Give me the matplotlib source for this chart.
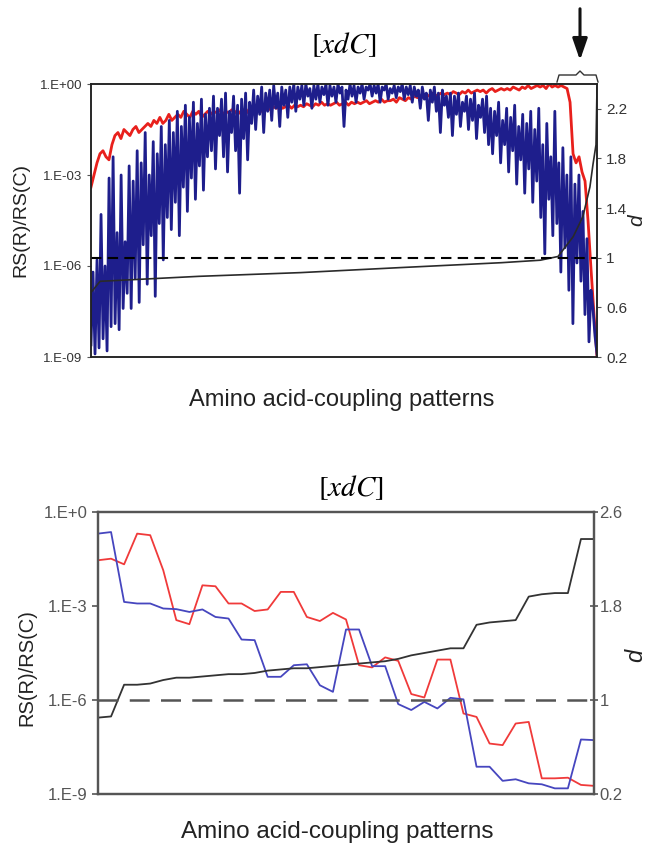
import numpy as np
import matplotlib.pyplot as plt
from matplotlib.ticker import NullLocator
from matplotlib.lines import Line2D

plt.rcParams['font.family'] = ['Liberation Sans', 'DejaVu Sans']
plt.rcParams['mathtext.fontset'] = 'stix'

# ---- upper panel: all coupling patterns (log10 of RS(R)/RS(C)) ----
blue_top = [
    -8.6, -6.2, -8.9, -5.8, -8.7, -4.3, -8.4, -6.0, -8.8, -3.1, -8.0, -2.4, -7.9, -4.9, -8.1, -3.0, -7.4, -5.2, -6.9, -2.7,
    -7.4, -3.2, -6.4, -2.2, -7.2, -2.6, -5.3, -1.6, -6.6, -3.0, -5.0, -1.9, -7.0, -2.3, -4.6, -1.4, -5.8, -2.0, -4.4, -1.2,
    -4.8, -1.6, -3.9, -0.9, -5.0, -1.4, -3.4, -0.7, -4.2, -1.1, -3.1, -0.6, -3.8, -1.3, -2.7, -0.5, -3.5, -1.0, -2.4, -0.8,
    -2.2, -0.4, -2.8, -0.8, -1.7, -0.5, -2.4, -0.3, -2.9, -0.9, -1.6, -0.4, -2.2, -0.7, -3.6, -0.5, -1.8, -0.3, -2.5, -0.6,
    -1.3, -0.2, -1.5, -0.4, -1.0, -0.1, -1.6, -0.3, -0.9, -0.2, -1.2, -0.05, -0.8, -0.3, -1.4, -0.1, -0.7, -0.2, -1.1, -0.1,
    -0.6, 0.0, -0.9, -0.1, -0.5, -0.05, -0.7, 0.0, -0.4, -0.15, -0.8, -0.05, -0.5, 0.0, -0.6, -0.1, -0.35, 0.0, -0.7, -0.05,
    -0.4, -0.1, -0.6, 0.0, -0.3, -0.1, -1.4, -0.2, -0.5, 0.0, -0.4, -0.05, -0.6, -0.1, -0.3, 0.0, -0.5, -0.1, -0.2, 0.0,
    -0.4, -0.05, -0.3, 0.0, -0.6, -0.1, -0.2, 0.0, -0.5, -0.15, -0.3, -0.05, -0.45, -0.1, -0.25, 0.0, -0.5, -0.1, -0.35, -0.05,
    -0.6, -0.1, -0.4, -0.2, -0.8, -0.1, -0.5, -0.3, -1.2, -0.2, -0.6, -0.1, -0.9, -0.3, -1.6, -0.2, -0.7, -0.4, -1.1, -0.3,
    -1.7, -0.4, -1.0, -0.3, -1.4, -0.6, -0.9, -0.4, -1.5, -0.5, -1.2, -0.3, -1.8, -0.7, -1.1, -0.5, -1.6, -0.4, -2.0, -0.8,
    -2.3, -0.9, -1.7, -0.6, -2.6, -1.2, -2.0, -0.8, -2.9, -1.1, -2.2, -0.7, -3.3, -1.4, -2.5, -1.0, -3.6, -1.3, -2.8, -0.9,
    -3.9, -1.5, -3.2, -0.8, -4.4, -2.0, -5.6, -1.3, -3.8, -2.4, -5.0, -0.9, -4.6, -2.6, -6.2, -2.1, -5.4, -3.0, -6.8, -2.4,
    -7.9, -3.3, -5.9, -3.0, -6.5, -4.2, -7.6, -5.1, -8.5, -6.8, -7.4, -8.3, -8.9,
]
red_top = [
    -3.4, -3.0, -2.6, -2.3, -2.2, -2.4, -2.5, -2.0, -1.7, -1.6,
    -1.8, -1.5, -1.6, -1.7, -1.5, -1.4, -1.6, -1.5, -1.4, -1.3,
    -1.4, -1.2, -1.3, -1.1, -1.3, -1.2, -1.0, -1.2, -1.1, -1.0,
    -1.1, -0.9, -1.0, -1.1, -0.9, -1.0, -0.9, -1.1, -1.0, -0.9,
    -1.0, -0.9, -0.95, -0.85, -1.0, -0.9, -0.95, -0.85, -0.9, -1.0,
    -0.9, -0.85, -0.95, -0.8, -0.9, -0.85, -0.8, -0.9, -0.85, -0.8,
    -0.85, -0.75, -0.8, -0.7, -0.8, -0.75, -0.7, -0.8, -0.7, -0.75,
    -0.7, -0.75, -0.65, -0.7, -0.75, -0.65, -0.7, -0.6, -0.7, -0.65,
    -0.7, -0.65, -0.6, -0.7, -0.65, -0.6, -0.7, -0.6, -0.65, -0.6,
    -0.65, -0.6, -0.55, -0.65, -0.6, -0.55, -0.6, -0.5, -0.6, -0.55,
    -0.55, -0.5, -0.6, -0.45, -0.5, -0.55, -0.45, -0.5, -0.4, -0.45,
    -0.4, -0.45, -0.35, -0.4, -0.3, -0.4, -0.35, -0.3, -0.35, -0.3,
    -0.35, -0.25, -0.3, -0.35, -0.25, -0.3, -0.2, -0.3, -0.25, -0.2,
    -0.25, -0.2, -0.3, -0.2, -0.15, -0.25, -0.2, -0.15, -0.2, -0.15,
    -0.2, -0.1, -0.15, -0.2, -0.1, -0.15, -0.05, -0.15, -0.1, -0.05,
    -0.1, -0.05, -0.15, 0.0, -0.1, -0.05, -0.1,
    -0.05, -0.1, -0.15, -0.6, -2.3, -2.6, -2.4,
    -2.9, -3.2, -4.5, -6.1, -7.6, -9.0,
]
# d value along the pattern rank (fraction of all patterns, upper panel)
d_top_rank = [0, 0.018, 0.213, 0.414, 0.609, 0.811, 0.888, 0.923, 0.953, 0.972, 0.986, 0.992, 0.998, 1.0]
d_top = [0.72, 0.81, 0.85, 0.88, 0.92, 0.96, 0.98, 1.01, 1.17, 1.33, 1.57, 1.75, 1.91, 2.37]

# ---- lower panel: zoom on the last patterns ----
blue_bot = [-0.69, -0.64, -2.87, -2.92, -2.92, -3.08, -3.10, -3.19, -3.11, -3.35,
            -3.40, -4.07, -4.09, -5.26, -5.26, -4.89, -4.86, -5.53, -5.74, -3.75,
            -3.75, -4.92, -4.92, -6.13, -6.32, -6.06, -6.27, -5.93, -5.98, -8.13,
            -8.13, -8.58, -8.53, -8.66, -8.69, -8.82, -8.82, -7.26, -7.28]
red_bot = [-1.54, -1.49, -1.67, -0.69, -0.74, -1.86, -3.45, -3.58, -2.34, -2.37,
           -2.92, -2.92, -3.16, -3.11, -2.55, -2.55, -3.35, -3.48, -3.22, -3.43,
           -4.89, -4.96, -4.64, -4.75, -5.81, -5.92, -4.71, -4.71, -6.43, -6.54,
           -7.39, -7.44, -6.75, -6.70, -8.50, -8.50, -8.48, -8.71, -8.74]
d_bot = [0.85, 0.86, 1.13, 1.13, 1.14, 1.17, 1.19, 1.19, 1.20, 1.21,
         1.22, 1.22, 1.23, 1.25, 1.26, 1.27, 1.27, 1.28, 1.29, 1.30,
         1.31, 1.32, 1.33, 1.35, 1.38, 1.40, 1.42, 1.44, 1.44, 1.64,
         1.66, 1.67, 1.68, 1.88, 1.90, 1.91, 1.91, 2.37, 2.37]

log_ticks = [1, 1e-3, 1e-6, 1e-9]

fig = plt.figure(figsize=(6.51, 8.43), dpi=100)

# upper panel
ax1 = fig.add_axes([91 / 651, 1 - 357 / 843, 506 / 651, 273 / 843])
ax1.plot(np.linspace(0, 1, len(red_top)), 10.0 ** np.array(red_top), color='#e8201c', lw=2.0)
ax1.plot(np.linspace(0, 1, len(blue_top)), 10.0 ** np.array(blue_top), color='#1e1e8c', lw=2.0)
ax1.set_yscale('log')
ax1.set_ylim(1e-9, 1)
ax1.set_xlim(0, 1)
ax1.set_yticks(log_ticks)
ax1.set_yticklabels(['1.E+00', '1.E-03', '1.E-06', '1.E-09'], fontsize=9.5, color='#333333')
ax1.yaxis.set_minor_locator(NullLocator())
ax1.set_xticks([])
ax1.tick_params(axis='y', direction='out', length=3, width=0.8, color='#555555')

ax1b = ax1.twinx()
ax1b.plot(d_top_rank, d_top, color='#2a2a2a', lw=1.2)
ax1b.axhline(1, color='black', lw=1.5, dashes=(5, 3))
ax1b.set_ylim(0.2, 2.4)
ax1b.set_yticks([0.2, 0.6, 1, 1.4, 1.8, 2.2])
ax1b.set_yticklabels(['0.2', '0.6', '1', '1.4', '1.8', '2.2'], fontsize=11, color='#333333')
ax1b.tick_params(axis='y', direction='out', length=3, width=0.8, color='#555555')
for ax in (ax1, ax1b):
    for s in ax.spines.values():
        s.set_color('#222222')
        s.set_linewidth(1.1)

fig.text(344 / 651, 1 - 45 / 843, r'$[xdC]$', ha='center', va='center', fontsize=21)
fig.text(342 / 651, 1 - 400 / 843, 'Amino acid-coupling patterns', ha='center', va='center',
         fontsize=17, color='#222222')
fig.text(21 / 651, 1 - 220 / 843, 'RS(R)/RS(C)', ha='center', va='center', rotation=90,
         fontsize=14, color='#222222')
fig.text(637 / 651, 1 - 220 / 843, 'd', ha='center', va='center', rotation=90,
         fontsize=15, color='#222222', style='italic')

# arrow and brace over the last patterns
fig.add_artist(plt.Annotation('', xy=(580 / 651, 1 - 63 / 843), xytext=(580 / 651, 1 - 6 / 843),
                              xycoords='figure fraction', textcoords='figure fraction',
                              arrowprops=dict(arrowstyle='-|>,head_length=1.3,head_width=0.45',
                                              color='#111111', lw=2.2)))
bx = [557, 559, 576, 580, 584, 596, 598]
by = [82, 75, 75, 71, 75, 75, 82]
fig.add_artist(Line2D([v / 651 for v in bx], [1 - v / 843 for v in by],
                      transform=fig.transFigure, color='#333333', lw=1.0))

# lower panel
ax2 = fig.add_axes([98 / 651, 1 - 794 / 843, 496 / 651, 282 / 843])
x_bot = np.arange(len(blue_bot))
ax2.plot(x_bot, 10.0 ** np.array(red_bot), color='#f03a3a', lw=1.3)
ax2.plot(x_bot, 10.0 ** np.array(blue_bot), color='#4646bf', lw=1.3)
ax2.set_yscale('log')
ax2.set_ylim(1e-9, 1)
ax2.set_xlim(0, len(blue_bot) - 1)
ax2.set_yticks(log_ticks)
ax2.set_yticklabels(['1.E+0', '1.E-3', '1.E-6', '1.E-9'], fontsize=12, color='#555555')
ax2.yaxis.set_minor_locator(NullLocator())
ax2.set_xticks([])
ax2.tick_params(axis='y', direction='out', length=4, width=1.2, color='#555555')

ax2b = ax2.twinx()
ax2b.plot(x_bot, d_bot, color='#333333', lw=1.3)
ax2b.axhline(1, color='#555555', lw=1.8, dashes=(8, 4.5))
ax2b.set_ylim(0.2, 2.6)
ax2b.set_yticks([0.2, 1, 1.8, 2.6])
ax2b.set_yticklabels(['0.2', '1', '1.8', '2.6'], fontsize=12, color='#555555')
ax2b.tick_params(axis='y', direction='inout', length=6, width=1.2, color='#555555', pad=1)
for ax in (ax2, ax2b):
    for s in ax.spines.values():
        s.set_color('#555555')
        s.set_linewidth(1.6)

fig.text(351 / 651, 1 - 488 / 843, r'$[xdC]$', ha='center', va='center', fontsize=21)
fig.text(337 / 651, 1 - 832 / 843, 'Amino acid-coupling patterns', ha='center', va='center',
         fontsize=17.5, color='#222222')
fig.text(27 / 651, 1 - 668 / 843, 'RS(R)/RS(C)', ha='center', va='center', rotation=90,
         fontsize=14.5, color='#222222')
fig.text(636 / 651, 1 - 655 / 843, 'd', ha='center', va='center', rotation=90,
         fontsize=17, color='#222222', style='italic')

fig.savefig('out.png', dpi=100)
